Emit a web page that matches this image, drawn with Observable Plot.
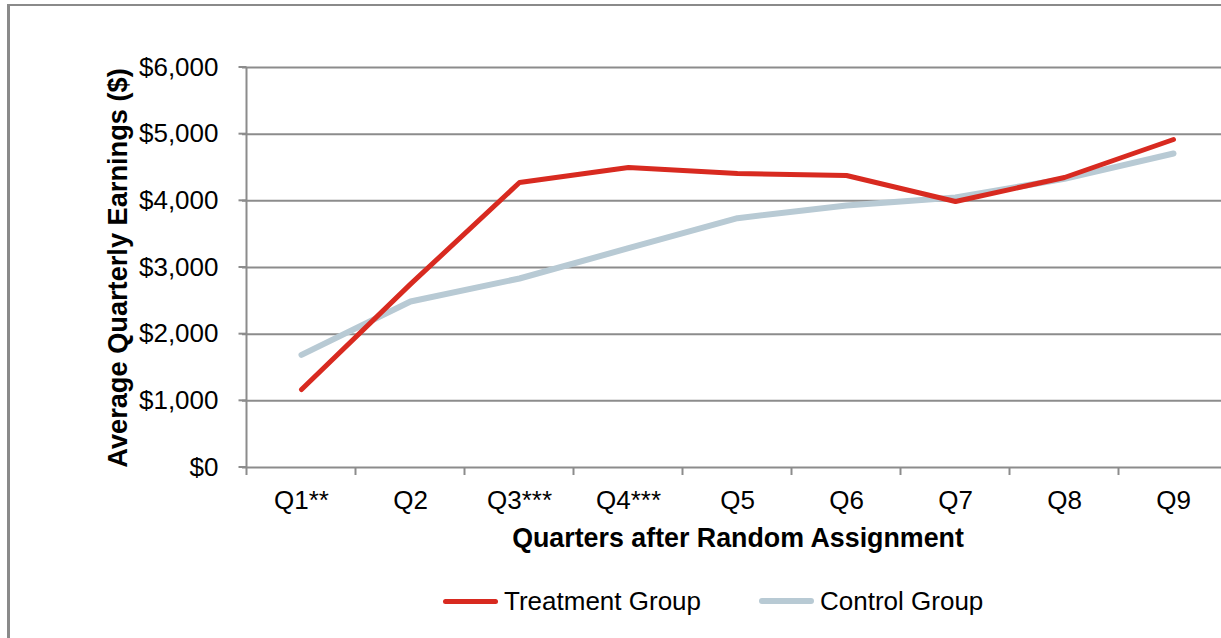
<!DOCTYPE html>
<html><head><meta charset="utf-8">
<script src="https://cdn.jsdelivr.net/npm/d3@7"></script>
<script src="https://cdn.jsdelivr.net/npm/@observablehq/plot@0.6"></script>
<style>
body{margin:0;background:#fff;font-family:"Liberation Sans",Arial,sans-serif;}
#wrap{position:relative;width:1221px;height:638px;overflow:hidden;background:#fff;}
#border{position:absolute;left:7px;top:4px;width:1400px;height:800px;border-left:3px solid #8a8a8a;border-top:2px solid #8a8a8a;box-sizing:border-box;}
#chart{position:absolute;left:0;top:0;}
#chart svg{max-width:none;overflow:visible;}
.title{position:absolute;font-weight:bold;line-height:28px;color:#000;white-space:nowrap;}
#xtitle{left:738px;top:524px;font-size:26.8px;transform:translateX(-50%);}
#ytitle{left:118px;top:268px;font-size:27.2px;transform:translate(-50%,-50%) rotate(-90deg);}
.leg{position:absolute;top:588px;height:26px;display:flex;align-items:center;font-size:26px;color:#000;white-space:nowrap;}
.sw{display:inline-block;width:55px;border-radius:3px;margin-right:6px;}
</style>
</head><body>
<div id="wrap">
  <div id="border"></div>
  <div id="chart"></div>
  <div class="title" id="xtitle"></div>
  <div class="title" id="ytitle"></div>
  <div id="legend"></div>
</div>
<script>
const quarters = ["Q1**", "Q2", "Q3***", "Q4***", "Q5", "Q6", "Q7", "Q8", "Q9"];
const treatment = [1170, 2750, 4275, 4500, 4410, 4380, 3990, 4350, 4920];
const control = [1690, 2490, 2835, 3290, 3740, 3930, 4050, 4330, 4710];
const yTicks = [0, 1000, 2000, 3000, 4000, 5000, 6000];
const seriesNames = ["Treatment Group", "Control Group"];
const seriesColors = ["#d82a20", "#b8cad4"];
const xTitle = "Quarters after Random Assignment";
const yTitle = "Average Quarterly Earnings ($)";

const rows = [];
quarters.forEach((q, i) => {
  rows.push({quarter: q, value: treatment[i], series: seriesNames[0]});
});
quarters.forEach((q, i) => {
  rows.push({quarter: q, value: control[i], series: seriesNames[1]});
});

const gray = "#8c8c8c";

function axisDecor(index, scales, values, dimensions) {
  const x = scales.x, y = scales.y;
  const g = d3.create("svg:g").attr("stroke", gray).attr("stroke-width", 2).attr("fill", "none");
  const xs = quarters.map(q => x(q));
  const step = xs[1] - xs[0];
  const bounds = [xs[0] - step / 2, ...xs.slice(0, -1).map((v, i) => (v + xs[i + 1]) / 2), xs[xs.length - 1] + step / 2];
  const y0 = y(yTicks[0]), yTop = y(yTicks[yTicks.length - 1]);
  g.append("line").attr("x1", bounds[0]).attr("x2", bounds[0]).attr("y1", yTop).attr("y2", y0 + 8);
  for (const t of yTicks) {
    g.append("line").attr("x1", bounds[0] - 8).attr("x2", bounds[0]).attr("y1", y(t)).attr("y2", y(t));
  }
  for (const b of bounds.slice(1)) {
    g.append("line").attr("x1", b).attr("x2", b).attr("y1", y0).attr("y2", y0 + 8);
  }
  return g.node();
}

const chart = Plot.plot({
  width: 1245,
  height: 560,
  marginTop: 67,
  marginBottom: 93,
  marginLeft: 242,
  marginRight: 14,
  style: {fontSize: "26px", fontFamily: "'Liberation Sans', Arial, sans-serif", color: "#000", background: "transparent"},
  x: {type: "point", domain: quarters, padding: 0.5, tickSize: 0, tickPadding: 23, label: null},
  y: {domain: [0, 6000], ticks: yTicks, tickSize: 0, tickPadding: 24, tickFormat: d3.format("$,"), label: null},
  color: {domain: seriesNames, range: seriesColors},
  marks: [
    Plot.ruleY(yTicks, {stroke: gray, strokeWidth: 2}),
    axisDecor,
    Plot.line(rows.filter(d => d.series === seriesNames[1]), {x: "quarter", y: "value", stroke: "series", strokeWidth: 6, strokeLinejoin: "round", strokeLinecap: "round"}),
    Plot.line(rows.filter(d => d.series === seriesNames[0]), {x: "quarter", y: "value", stroke: "series", strokeWidth: 5, strokeLinejoin: "round", strokeLinecap: "round"})
  ]
});
document.getElementById("chart").appendChild(chart);
document.getElementById("xtitle").textContent = xTitle;
document.getElementById("ytitle").textContent = yTitle;

const legendPos = [443, 759];
const legendWidth = [5, 6];
const legend = document.getElementById("legend");
seriesNames.forEach((name, i) => {
  const item = document.createElement("div");
  item.className = "leg";
  item.style.left = legendPos[i] + "px";
  const sw = document.createElement("span");
  sw.className = "sw";
  sw.style.background = seriesColors[i];
  sw.style.height = legendWidth[i] + "px";
  item.appendChild(sw);
  item.appendChild(document.createTextNode(name));
  legend.appendChild(item);
});
</script>
</body></html>
